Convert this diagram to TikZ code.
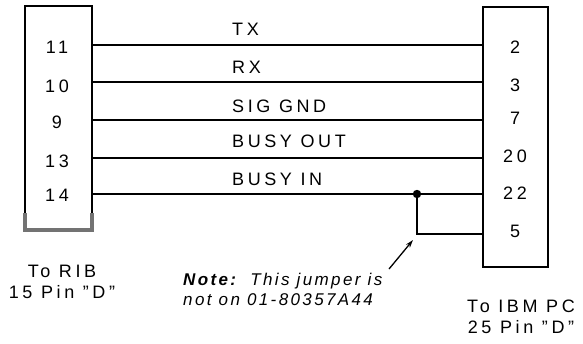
\documentclass[tikz,border=0pt]{standalone}
\usepackage{fontspec}
\setmainfont{Liberation Sans}[LetterSpace=20]
\newfontfamily\notefont{Liberation Sans}[LetterSpace=14]
\usetikzlibrary{positioning,arrows.meta}

\begin{document}
\begin{tikzpicture}[x=1pt,y=-1pt,
  txt/.style={inner sep=0pt,font=\fontsize{18}{21}\selectfont},
  pin/.style={txt},
  sig/.style={txt,anchor=west},
  wire/.style={line width=1.5pt},
  box/.style={line width=1.8pt}]

\useasboundingbox (0,0) rectangle (583,343);

\draw[box] (25,215) -- (25,6) -- (92,6) -- (92,215);
\draw[line width=3.5pt,black!55] (25,213) -- (25,230) -- (92,230) -- (92,213);
\node[draw,box,inner sep=0pt,minimum width=65,minimum height=260,anchor=north west] (pc) at (482,6) {};

\coordinate (l11) at (92,45);
\coordinate (l10) at (92,82);
\coordinate (l9)  at (92,120);
\coordinate (l13) at (92,158);
\coordinate (l14) at (92,194);
\coordinate (r2)  at (pc.west |- 0,45);
\coordinate (r3)  at (pc.west |- 0,82);
\coordinate (r7)  at (pc.west |- 0,120);
\coordinate (r20) at (pc.west |- 0,158);
\coordinate (r22) at (pc.west |- 0,194);
\coordinate (r5)  at (pc.west |- 0,234);

\node[pin] (p11) at (57,47) {11};
\node[pin] (p10) at (57,86) {10};
\node[pin] (p9)  at (57,122) {9};
\node[pin] (p13) at (57,161) {13};
\node[pin] (p14) at (57,195) {14};

\node[pin] (p2)  at (515,47) {2};
\node[pin] (p3)  at (515,85) {3};
\node[pin] (p7)  at (515,118) {7};
\node[pin] (p20) at (515,156) {20};
\node[pin] (p22) at (515,193) {22};
\node[pin] (p5)  at (515,231) {5};

\draw[wire] (l11) -- (r2);
\draw[wire] (l10) -- (r3);
\draw[wire] (l9)  -- (r7);
\draw[wire] (l13) -- (r20);
\draw[wire] (l14) -- (r22);

\node[sig] (tx)  at (232,29)  {TX};
\node[sig] (rx)  at (232,67)  {RX};
\node[sig] (gnd) at (232,106) {SIG GND};
\node[sig] (bso) at (232,141) {BUSY OUT};
\node[sig] (bsi) at (232,179) {BUSY IN};

\coordinate (jmp) at (417,194);
\fill (jmp) circle (4.2);
\draw[line width=1.1pt] (jmp) |- (r5);

\node[txt,align=left,anchor=west,font=\fontsize{17}{20}\notefont\itshape] (note) at (183,289)
  {\textbf{Note:}\ \ This jumper is\\not on 01-80357A44};
\coordinate (tail) at (389,269);
\coordinate (tip) at (413,240);
\draw[line width=1.3pt,-{Stealth[length=8pt,width=5pt]}] (tail) -- (tip);

\node[txt,align=center] (rib) at (62,282) {To RIB\\15 Pin "D"};
\node[txt,align=center] (ibm) at (521,317) {To IBM PC\\25 Pin "D"};

\end{tikzpicture}
\end{document}
